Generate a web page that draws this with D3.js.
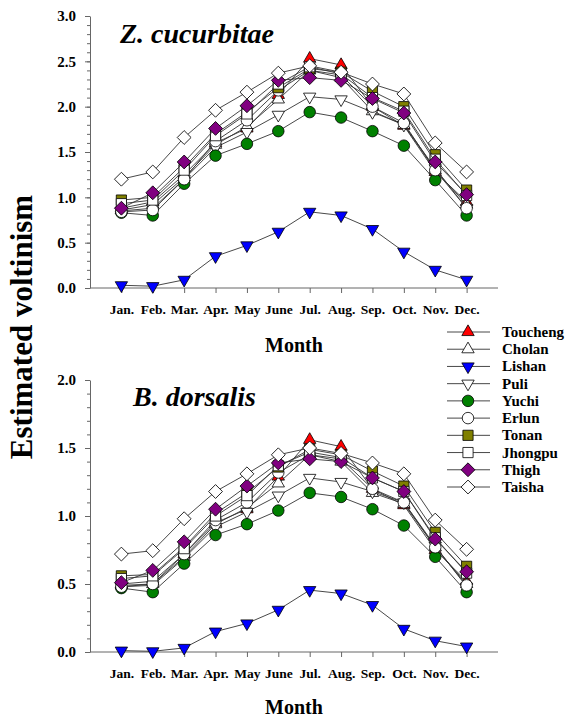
<!DOCTYPE html>
<html>
<head>
<meta charset="utf-8">
<script src="https://cdn.jsdelivr.net/npm/d3@7"></script>
<style>
  html, body { margin: 0; padding: 0; background: #fff; }
  svg { display: block; font-family: "Liberation Serif", "Times New Roman", serif; font-weight: bold; }
</style>
</head>
<body>
<svg id="chart" width="569" height="717"></svg>
<script>
// ---------- DATA ----------
const months = ["Jan.", "Feb.", "Mar.", "Apr.", "May", "June", "Jul.", "Aug.", "Sep.", "Oct.", "Nov.", "Dec."];
const sites = ["Toucheng", "Cholan", "Lishan", "Puli", "Yuchi", "Erlun", "Tonan", "Jhongpu", "Thigh", "Taisha"];

// Z. cucurbitae
const zcToucheng = [0.88, 0.95, 1.25, 1.60, 1.76, 2.13, 2.53, 2.46, 2.00, 1.79, 1.28, 0.95];
const zcCholan   = [0.86, 0.92, 1.22, 1.58, 1.78, 2.08, 2.40, 2.32, 1.95, 1.80, 1.30, 0.92];
const zcLishan   = [0.03, 0.02, 0.09, 0.35, 0.47, 0.62, 0.84, 0.80, 0.65, 0.40, 0.20, 0.09];
const zcPuli     = [0.85, 0.88, 1.20, 1.55, 1.72, 1.91, 2.11, 2.08, 1.94, 1.80, 1.32, 0.88];
const zcYuchi    = [0.83, 0.80, 1.15, 1.46, 1.59, 1.73, 1.94, 1.88, 1.73, 1.57, 1.19, 0.80];
const zcErlun    = [0.84, 0.86, 1.20, 1.62, 1.85, 2.18, 2.40, 2.35, 2.00, 1.82, 1.30, 0.88];
const zcTonan    = [0.97, 1.00, 1.33, 1.70, 1.94, 2.21, 2.42, 2.38, 2.17, 2.00, 1.47, 1.08];
const zcJhongpu  = [0.93, 0.97, 1.30, 1.68, 1.92, 2.25, 2.44, 2.36, 2.10, 1.95, 1.42, 1.02];
const zcThigh    = [0.88, 1.05, 1.39, 1.76, 2.01, 2.29, 2.32, 2.29, 2.09, 1.93, 1.39, 1.03];
const zcTaisha   = [1.20, 1.28, 1.66, 1.96, 2.16, 2.37, 2.45, 2.38, 2.25, 2.14, 1.60, 1.28];

// B. dorsalis
const bdToucheng = [0.50, 0.52, 0.72, 0.95, 1.05, 1.29, 1.56, 1.51, 1.20, 1.08, 0.75, 0.52];
const bdCholan   = [0.49, 0.50, 0.70, 0.94, 1.06, 1.24, 1.45, 1.40, 1.17, 1.09, 0.77, 0.50];
const bdLishan   = [0.01, 0.005, 0.03, 0.15, 0.21, 0.31, 0.455, 0.43, 0.345, 0.17, 0.083, 0.04];
const bdPuli     = [0.48, 0.49, 0.69, 0.92, 1.03, 1.15, 1.28, 1.25, 1.18, 1.10, 0.78, 0.48];
const bdYuchi    = [0.47, 0.44, 0.65, 0.86, 0.94, 1.04, 1.17, 1.14, 1.05, 0.93, 0.70, 0.44];
const bdErlun    = [0.48, 0.50, 0.72, 0.97, 1.10, 1.32, 1.45, 1.42, 1.20, 1.10, 0.77, 0.49];
const bdTonan    = [0.56, 0.57, 0.77, 1.02, 1.17, 1.36, 1.49, 1.45, 1.33, 1.22, 0.88, 0.63];
const bdJhongpu  = [0.54, 0.56, 0.76, 1.00, 1.15, 1.37, 1.47, 1.43, 1.28, 1.18, 0.84, 0.58];
const bdThigh    = [0.51, 0.60, 0.81, 1.05, 1.22, 1.39, 1.42, 1.40, 1.28, 1.18, 0.83, 0.59];
const bdTaisha   = [0.72, 0.745, 0.98, 1.18, 1.31, 1.45, 1.50, 1.46, 1.39, 1.31, 0.97, 0.755];

const zcTicks = [0.0, 0.5, 1.0, 1.5, 2.0, 2.5, 3.0];
const bdTicks = [0.0, 0.5, 1.0, 1.5, 2.0];

const zcSeries = [zcToucheng, zcCholan, zcLishan, zcPuli, zcYuchi, zcErlun, zcTonan, zcJhongpu, zcThigh, zcTaisha];
const bdSeries = [bdToucheng, bdCholan, bdLishan, bdPuli, bdYuchi, bdErlun, bdTonan, bdJhongpu, bdThigh, bdTaisha];

// ---------- STYLES ----------
const markerStyle = {
  Toucheng: { shape: "up",      fill: "#ff0000" },
  Cholan:   { shape: "up",      fill: "#ffffff" },
  Lishan:   { shape: "down",    fill: "#0000ff" },
  Puli:     { shape: "down",    fill: "#ffffff" },
  Yuchi:    { shape: "circle",  fill: "#008000" },
  Erlun:    { shape: "circle",  fill: "#ffffff" },
  Tonan:    { shape: "square",  fill: "#808000" },
  Jhongpu:  { shape: "square",  fill: "#ffffff" },
  Thigh:    { shape: "diamond", fill: "#800080" },
  Taisha:   { shape: "diamond", fill: "#ffffff" }
};

function drawMarker(g, shape, fill, cx, cy) {
  let sym, rot = 0, size;
  if (shape === "up")      { sym = d3.symbolTriangle; size = 66; }
  if (shape === "down")    { sym = d3.symbolTriangle; size = 66; rot = 180; }
  if (shape === "circle")  { sym = d3.symbolCircle;   size = 104; }
  if (shape === "square")  { sym = d3.symbolSquare;   size = 104; }
  if (shape === "diamond") { sym = d3.symbolSquare;   size = 96; rot = 45; }
  g.append("path")
    .attr("d", d3.symbol().type(sym).size(size)())
    .attr("transform", `translate(${cx},${cy}) rotate(${rot})`)
    .attr("fill", fill)
    .attr("stroke", "#000")
    .attr("stroke-width", 0.8);
}

const svg = d3.select("#chart");
const axisColor = "#666";

function panel(cfg) {
  const x = d3.scaleLinear().domain([0, 13]).range([90, 498]);
  const y = d3.scaleLinear().domain([0, cfg.max]).range([cfg.bottom, cfg.top]);
  const g = svg.append("g");

  // minor y ticks
  const minor = d3.range(0, cfg.max + 1e-9, 0.1).map(v => +v.toFixed(1));
  const minorAxis = g.append("g").attr("transform", "translate(90,0)")
    .call(d3.axisLeft(y).tickValues(minor).tickSize(3).tickFormat(""));
  minorAxis.selectAll("line").attr("stroke", axisColor);
  minorAxis.select(".domain").remove();

  // major y axis
  const yAx = g.append("g").attr("transform", "translate(90,0)")
    .call(d3.axisLeft(y).tickValues(cfg.ticks).tickSize(5).tickSizeOuter(0).tickPadding(9).tickFormat(d3.format(".1f")));
  yAx.select(".domain").attr("stroke", axisColor);
  yAx.selectAll("line").attr("stroke", axisColor);
  yAx.selectAll("text").attr("font-family", "Liberation Serif").attr("font-weight", "bold")
     .attr("font-size", 15).attr("fill", "#000");

  // x axis
  const xAx = g.append("g").attr("transform", `translate(0,${cfg.bottom})`)
    .call(d3.axisBottom(x).tickValues(d3.range(1, 13)).tickSize(5).tickSizeOuter(0).tickPadding(11)
      .tickFormat((d) => months[d - 1]));
  xAx.select(".domain").attr("stroke", axisColor).attr("d", `M90,0H498`);
  xAx.selectAll("line").attr("stroke", axisColor);
  xAx.selectAll("text").attr("font-family", "Liberation Serif").attr("font-weight", "bold")
     .attr("font-size", 13.5).attr("fill", "#000");

  // x title
  g.append("text").attr("x", 294).attr("y", cfg.xTitleY).attr("text-anchor", "middle")
    .attr("font-size", 20).text("Month");

  // panel title
  g.append("text").attr("x", cfg.titleX).attr("y", cfg.titleY)
    .attr("font-size", 28).attr("font-style", "italic").text(cfg.title);

  // series
  const line = d3.line().x((d, i) => x(i + 1)).y(d => y(d));
  cfg.series.forEach((vals, si) => {
    const st = markerStyle[sites[si]];
    const sg = g.append("g");
    sg.append("path").attr("d", line(vals)).attr("fill", "none")
      .attr("stroke", "#333").attr("stroke-width", 0.9);
    vals.forEach((v, i) => drawMarker(sg, st.shape, st.fill, x(i + 1), y(v)));
  });
}

panel({ max: 3.0, top: 16, bottom: 288, ticks: zcTicks, series: zcSeries,
        title: "Z. cucurbitae", titleX: 120, titleY: 43, xTitleY: 352 });
panel({ max: 2.0, top: 380, bottom: 652, ticks: bdTicks, series: bdSeries,
        title: "B. dorsalis", titleX: 133, titleY: 406, xTitleY: 714 });

// y title
svg.append("text").attr("transform", "translate(32,327) rotate(-90)")
  .attr("text-anchor", "middle").attr("font-size", 31).text("Estimated voltinism");

// legend
const legY = d3.scaleLinear().domain([0, sites.length - 1]).range([332, 487]);
const lg = svg.append("g");
sites.forEach((s, i) => {
  const yy = legY(i);
  const st = markerStyle[s];
  lg.append("line").attr("x1", 447).attr("x2", 490).attr("y1", yy).attr("y2", yy)
    .attr("stroke", "#333").attr("stroke-width", 0.9);
  drawMarker(lg, st.shape, st.fill, 468, yy);
  lg.append("text").attr("x", 502).attr("y", yy + 5).attr("font-size", 15).text(s);
});
</script>
</body>
</html>
